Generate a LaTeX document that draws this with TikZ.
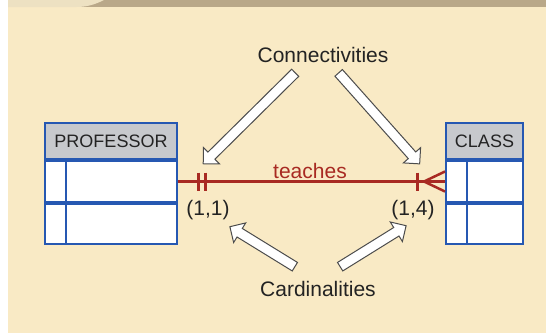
\documentclass[tikz,border=0pt]{standalone}
\usepackage{fontspec}
\setmainfont{Liberation Sans}
\usetikzlibrary{calc,shapes.arrows}
\definecolor{cream}{RGB}{249,234,197}
\definecolor{band}{RGB}{185,168,137}
\definecolor{wash}{RGB}{237,225,194}
\definecolor{tblue}{RGB}{38,88,178}
\definecolor{thead}{RGB}{199,201,205}
\definecolor{rel}{RGB}{168,42,34}
\definecolor{ink}{RGB}{35,35,35}
\tikzset{
  hd/.style={draw=tblue,fill=thead,line width=2pt,font=\fontsize{18}{18}\selectfont,text=ink,inner sep=0},
  row/.style={draw=tblue,fill=white,line width=2pt,inner sep=0},
  lbl/.style={font=\fontsize{21}{21}\selectfont,text=ink,inner sep=0},
  bigarrow/.style={single arrow,draw=black!70,fill=white,line width=1pt,inner xsep=0,inner ysep=4.5pt,
    minimum width=22pt,single arrow head extend=6.5pt}
}
\newcommand\blockarrow[2]{\path let \p1=($(#2)-(#1)$),\n1={veclen(\x1,\y1)},\n2={atan2(\y1,\x1)} in
  ($(#1)!.5!(#2)$) node[bigarrow,minimum height=\n1,rotate=\n2] {};}
\begin{document}
\begin{tikzpicture}[x=1pt,y=-1pt]
\useasboundingbox (0,0) rectangle (546,333);
\fill[white] (0,0) rectangle (546,333);
\fill[cream] (8,0) rectangle (546,333);
\fill[band] (8,0) rectangle (546,7);
\fill[wash] (8,0) -- (104,0) .. controls (94,5) and (86,7) .. (76,7) -- (8,7) -- cycle;
\node[hd,minimum width=132pt,minimum height=36pt] (profhead) at (111,141) {PROFESSOR};
\node[row,minimum width=132pt,minimum height=41pt,anchor=north] (prof1) at (profhead.south) {};
\node[row,minimum width=132pt,minimum height=40pt,anchor=north] (prof2) at (prof1.south) {};
\draw[tblue,line width=2pt] ($(prof1.north west)+(22,0)$) -- ($(prof2.south west)+(22,0)$);
\node[hd,minimum width=77pt,minimum height=36pt] (classhead) at (484.5,141) {CLASS};
\node[row,minimum width=77pt,minimum height=41pt,anchor=north] (class1) at (classhead.south) {};
\node[row,minimum width=77pt,minimum height=40pt,anchor=north] (class2) at (class1.south) {};
\draw[tblue,line width=2pt] ($(class1.north west)+(22,0)$) -- ($(class2.south west)+(22,0)$);
\draw[rel,line width=3pt] (prof1.east) -- (class1.west);
\draw[rel,line width=3pt] ($(prof1.east)+(20,-9)$) -- ++(0,18) ($(prof1.east)+(27,-9)$) -- ++(0,18);
\draw[rel,line width=3pt] ($(class1.west)+(-28,-9)$) -- ++(0,18);
\draw[rel,line width=2.5pt] ($(class1.west)+(0,-10)$) -- ($(class1.west)+(-21,0)$) -- ($(class1.west)+(0,10)$);
\node[lbl,text=rel,anchor=base] (teach) at (310,178) {teaches};
\node[lbl] (one) at (208,210) {(1,1)};
\node[lbl] (many) at (413,210) {(1,4)};
\node[lbl] (conn) at (323,55) {Connectivities};
\node[lbl] (card) at (318,289) {Cardinalities};
\coordinate (c1) at (297,71);
\coordinate (c1t) at (205,162);
\coordinate (c2) at (337,71);
\coordinate (c2t) at (418,162);
\coordinate (k1) at (297,268);
\coordinate (k1t) at (232,228);
\coordinate (k2) at (338,268);
\coordinate (k2t) at (404,227);
\blockarrow{c1}{c1t}
\blockarrow{c2}{c2t}
\blockarrow{k1}{k1t}
\blockarrow{k2}{k2t}
\end{tikzpicture}
\end{document}
